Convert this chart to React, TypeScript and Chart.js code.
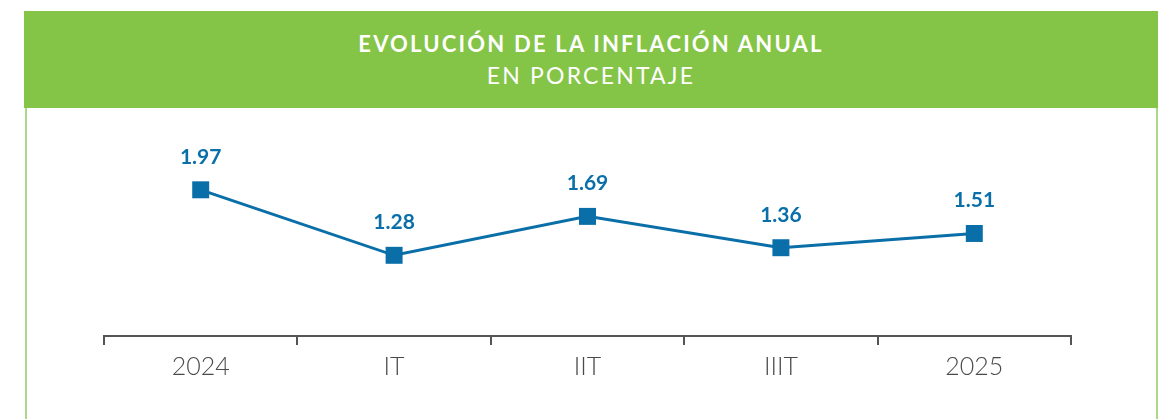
import React, { useEffect, useRef } from "react";
import { Chart, registerables } from "chart.js";

Chart.register(...registerables);

const categories: string[] = ["2024", "IT", "IIT", "IIIT", "2025"];
const inflation: number[] = [1.97, 1.28, 1.69, 1.36, 1.51];
const titleLine1 = "EVOLUCIÓN DE LA INFLACIÓN ANUAL";
const titleLine2 = "EN PORCENTAJE";

const BLUE = "#0a6fa8";
const GREEN = "#84c447";
const FONT = "Lato, 'Open Sans', sans-serif";

const valueLabels = {
  id: "valueLabels",
  afterDatasetsDraw(chart: any) {
    const ctx = chart.ctx;
    const meta = chart.getDatasetMeta(0);
    ctx.save();
    ctx.fillStyle = BLUE;
    ctx.font = `bold 21px ${FONT}`;
    ctx.textAlign = "center";
    ctx.textBaseline = "alphabetic";
    meta.data.forEach((pt: any, i: number) => {
      const v = chart.data.datasets[0].data[i] as number;
      ctx.fillText(v.toFixed(2), pt.x, pt.y - 26);
    });
    ctx.restore();
  },
};

export default function App() {
  const canvasRef = useRef<HTMLCanvasElement | null>(null);

  useEffect(() => {
    if (!canvasRef.current) return;
    const chart = new Chart(canvasRef.current, {
      type: "line",
      data: {
        labels: categories,
        datasets: [
          {
            data: inflation,
            borderColor: BLUE,
            backgroundColor: BLUE,
            borderWidth: 3,
            pointStyle: "rect",
            pointRadius: 12,
            pointHoverRadius: 12,
            pointBorderWidth: 0,
            pointBackgroundColor: BLUE,
            tension: 0,
          },
        ],
      },
      options: {
        animation: false,
        responsive: false,
        maintainAspectRatio: false,
        layout: { padding: { left: 104, right: 93, top: 130, bottom: 0 } },
        plugins: {
          legend: { display: false },
          tooltip: { enabled: false },
          title: { display: false },
        },
        scales: {
          x: {
            type: "category",
            offset: true,
            border: { display: true, color: "#555555", width: 2 },
            grid: {
              offset: true,
              drawOnChartArea: false,
              drawTicks: true,
              tickLength: 9,
              color: "#555555",
              lineWidth: 2,
            },
            ticks: {
              color: "#4a4a4a",
              padding: 7,
              font: { family: FONT, size: 25, weight: "300" as any },
            },
            afterFit: (scale: any) => {
              scale.height = 83;
            },
          },
          y: {
            display: false,
            min: 0.43,
            max: 2.6,
          },
        },
      },
      plugins: [valueLabels],
    });
    return () => chart.destroy();
  }, []);

  return (
    <div
      style={{
        position: "absolute",
        left: 0,
        top: 0,
        width: 1164,
        height: 419,
        overflow: "hidden",
        background: "#ffffff",
      }}
    >
      <div
        style={{
          position: "absolute",
          left: 24,
          top: 11,
          width: 1134,
          height: 97,
          background: GREEN,
        }}
      >
        <div
          style={{
            position: "absolute",
            left: 0,
            right: 0,
            top: 20,
            textAlign: "center",
            color: "#ffffff",
            fontFamily: FONT,
            fontWeight: 700,
            fontSize: 22,
            letterSpacing: "2.2px",
            lineHeight: "26px",
          }}
        >
          {titleLine1}
        </div>
        <div
          style={{
            position: "absolute",
            left: 0,
            right: 0,
            top: 50,
            textAlign: "center",
            color: "#ffffff",
            fontFamily: FONT,
            fontWeight: 400,
            fontSize: 23,
            letterSpacing: "2.2px",
            lineHeight: "28px",
          }}
        >
          {titleLine2}
        </div>
      </div>
      <div
        style={{
          position: "absolute",
          left: 25,
          top: 108,
          width: 2,
          height: 311,
          background: "#a9d88a",
        }}
      />
      <div
        style={{
          position: "absolute",
          left: 1156,
          top: 108,
          width: 2,
          height: 311,
          background: "#a9d88a",
        }}
      />
      <canvas
        ref={canvasRef}
        width={1164}
        height={419}
        style={{ position: "absolute", left: 0, top: 0, width: 1164, height: 419 }}
      />
    </div>
  );
}
